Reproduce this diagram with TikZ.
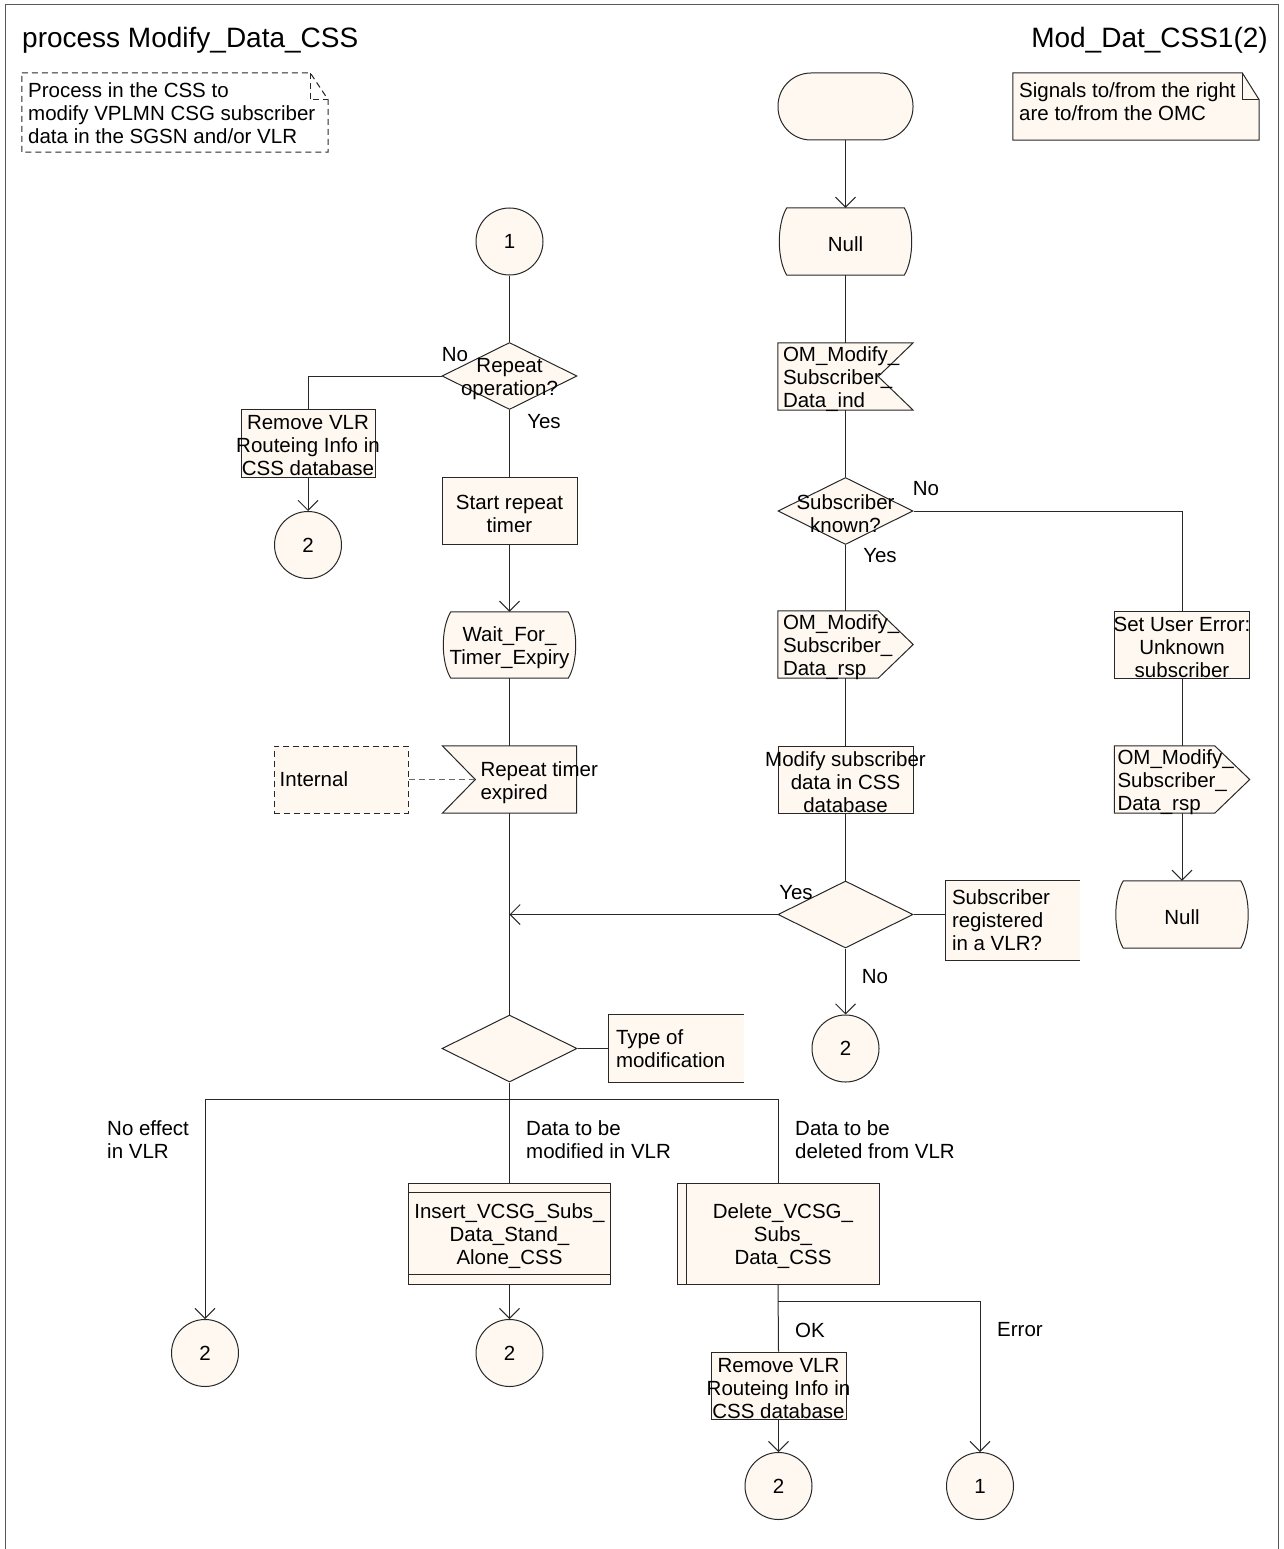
\documentclass[tikz,border=0pt]{standalone}
\usepackage{fontspec}
\setmainfont{Liberation Sans}
\usetikzlibrary{shapes.geometric,arrows.meta}
\definecolor{cream}{RGB}{254,248,241}
\definecolor{ink}{RGB}{40,40,40}
\newcommand\fs{\fontsize{20.5}{23}\selectfont}
\tikzset{
  wire/.style={draw=ink, line width=1pt},
  arr/.style={wire, -{Straight Barb[length=10pt,width=20pt]}},
  shp/.style={draw=ink, fill=cream, line width=1pt},
  slot/.style={rectangle, inner sep=0pt, minimum width=135pt, minimum height=67pt},
  sdlproc/.style={slot, draw=ink, fill=cream, line width=1pt},
  sdldec/.style={diamond, draw=ink, fill=cream, line width=1pt, inner sep=0pt, minimum width=135pt, minimum height=67pt},
  sdlconn/.style={circle, draw=ink, fill=cream, line width=1pt, inner sep=0pt, minimum size=67pt, font=\fs},
  txt/.style={font=\fs, inner sep=0pt, align=center, yshift=-3pt},
  ltxt/.style={font=\fs, inner sep=0pt, align=left, anchor=west, yshift=-3pt},
  lbl/.style={font=\fs, inner sep=0pt, align=left},
  ttl/.style={font=\fontsize{28}{32}\selectfont, inner sep=0pt},
  frame/.style={draw=black!65, line width=1pt},
  dsh/.style={dash pattern=on 6pt off 4pt}
}
\newcommand\sdlState[1]{\path[shp] ([xshift=9pt]#1.north west) -- ([xshift=-9pt]#1.north east) .. controls ([xshift=1pt,yshift=-16pt]#1.north east) and ([xshift=1pt,yshift=16pt]#1.south east) .. ([xshift=-9pt]#1.south east) -- ([xshift=9pt]#1.south west) .. controls ([xshift=-1pt,yshift=16pt]#1.south west) and ([xshift=-1pt,yshift=-16pt]#1.north west) .. cycle;}
\newcommand\sdlIn[1]{\path[shp] (#1.north west) -- (#1.north east) -- ([xshift=-35pt]#1.east) -- (#1.south east) -- (#1.south west) -- cycle;}
\newcommand\sdlOut[1]{\path[shp] (#1.north west) -- ([xshift=-35pt]#1.north east) -- (#1.east) -- ([xshift=-35pt]#1.south east) -- (#1.south west) -- cycle;}
\newcommand\sdlInL[1]{\path[shp] (#1.north west) -- (#1.north east) -- (#1.south east) -- (#1.south west) -- ([xshift=33pt]#1.west) -- cycle;}
\newcommand\sdlCom[1]{\fill[cream] (#1.north west) rectangle (#1.south east); \draw[wire] (#1.north east) -- (#1.north west) -- (#1.south west) -- (#1.south east);}
\begin{document}
\begin{tikzpicture}[x=1pt,y=-1pt]
\useasboundingbox (0,0) rectangle (1283,1549);
\draw[frame] (5,1549) -- (5,5) -- (1278,5) -- (1278,1549);

% titles
\node[ttl, anchor=west] (title) at (22,40) {process Modify\_Data\_CSS};
\node[ttl, anchor=east] (page) at (1268,40) {Mod\_Dat\_CSS1(2)};

% notes
\node[slot, minimum width=306pt, minimum height=79pt] (note1) at (175,112.5) {};
\draw[wire, dsh] (note1.north west) -- ([xshift=-18pt]note1.north east) -- ([yshift=-27pt]note1.north east) -- (note1.south east) -- (note1.south west) -- cycle;
\draw[wire, dsh] ([xshift=-18pt]note1.north east) -- ([xshift=-18pt,yshift=-27pt]note1.north east) -- ([yshift=-27pt]note1.north east);
\node[slot, minimum width=246pt, minimum height=67pt] (note2) at (1136,106.5) {};
\path[shp] (note2.north west) -- ([xshift=-17pt]note2.north east) -- ([yshift=-27pt]note2.north east) -- (note2.south east) -- (note2.south west) -- cycle;
\draw[wire] ([xshift=-17pt]note2.north east) -- ([xshift=-17pt,yshift=-27pt]note2.north east) -- ([yshift=-27pt]note2.north east);

% right-hand column
\node[sdlproc, rounded corners=33pt] (start) at (845.5,106.5) {};
\node[slot] (null1) at (845.5,241.5) {};
\sdlState{null1}
\node[slot] (in1) at (845.5,376.5) {};
\sdlIn{in1}
\node[sdldec] (dec1) at (845.5,511) {};
\node[slot] (out1) at (845.5,644.5) {};
\sdlOut{out1}
\node[sdlproc] (err) at (1182,644.5) {};
\node[slot] (out2) at (1182,779.5) {};
\sdlOut{out2}
\node[slot] (null2) at (1182,914.5) {};
\sdlState{null2}
\node[sdlproc] (mod) at (845.5,779.5) {};
\node[sdldec] (dec2) at (845.5,914.5) {};
\node[slot, minimum width=134pt, minimum height=79pt] (com1) at (1013,920.5) {};
\sdlCom{com1}
\node[sdlconn] (c2a) at (845.5,1048.5) {2};

% left-hand column
\node[sdlconn] (c1) at (509.5,241.5) {1};
\node[sdldec] (dec0) at (509.5,376) {};
\node[sdlproc, minimum width=134pt, minimum height=68pt] (rem1) at (308,443) {};
\node[sdlconn] (c2b) at (308,545) {2};
\node[sdlproc] (timer) at (509.5,510.5) {};
\node[slot, minimum height=66pt] (wait) at (509.5,645) {};
\sdlState{wait}
\node[slot, minimum width=134pt] (rte) at (509.5,779.5) {};
\sdlInL{rte}
\node[slot, minimum width=134pt, fill=cream, draw=ink, line width=1pt, dsh] (intl) at (341,779.5) {};
\node[sdldec] (dec3) at (509.5,1048.5) {};
\node[slot, minimum width=135pt] (com2) at (676.5,1048.5) {};
\sdlCom{com2}

% bottom
\coordinate (j) at (509.5,1099);
\node[sdlconn] (c2c) at (205,1353) {2};
\node[sdlproc, minimum width=202pt, minimum height=101pt] (ins) at (509.5,1233.5) {};
\draw[wire] ([yshift=-10pt]ins.north west) -- ([yshift=-10pt]ins.north east);
\draw[wire] ([yshift=10pt]ins.south west) -- ([yshift=10pt]ins.south east);
\node[sdlconn] (c2d) at (509.5,1353) {2};
\node[sdlproc, minimum width=202pt, minimum height=101pt] (del) at (778,1233.5) {};
\draw[wire] ([xshift=10pt]del.north west) -- ([xshift=10pt]del.south west);
\coordinate (k) at (778,1301);
\node[sdlproc] (rem2) at (778.5,1385.5) {};
\node[sdlconn] (c2e) at (778.5,1486) {2};
\node[sdlconn] (c1b) at (980,1486) {1};

% connectors
\draw[arr] (start.south) -- (null1.north);
\draw[wire] (null1.south) -- (in1.north);
\draw[wire] (in1.south) -- (dec1.north);
\draw[wire] (dec1.south) -- (out1.north);
\draw[wire] (dec1.east) -- (dec1.east -| err.north) -- (err.north);
\draw[wire] (err.south) -- (out2.north);
\draw[arr] (out2.south) -- (null2.north);
\draw[wire] (out1.south) -- (mod.north);
\draw[wire] (mod.south) -- (dec2.north);
\draw[arr] (dec2.west) -- (dec2.west -| rte.south);
\draw[wire] (dec2.east) -- (dec2.east -| com1.west);
\draw[arr] (dec2.south) -- (c2a.north);
\draw[wire] (c1.south) -- (dec0.north);
\draw[wire] (dec0.west) -- (dec0.west -| rem1.north) -- (rem1.north);
\draw[arr] (rem1.south) -- (c2b.north);
\draw[wire] (dec0.south) -- (timer.north);
\draw[arr] (timer.south) -- (wait.north);
\draw[wire] (wait.south) -- (rte.north);
\draw[wire] (rte.south) -- (dec3.north);
\draw[wire, draw=ink!70, dsh] (intl.east) -- ([xshift=33pt]rte.west);
\draw[wire] (dec3.east) -- (com2.west);
\draw[wire] (dec3.south) -- (j);
\draw[wire] (j -| c2c.north) -- (j -| del.north);
\draw[arr] (j -| c2c.north) -- (c2c.north);
\draw[wire] (j) -- (ins.north);
\draw[wire] (j -| del.north) -- (del.north);
\draw[arr] (ins.south) -- (c2d.north);
\draw[wire] (del.south) -- (rem2.north);
\draw[arr] (k) -- (k -| c1b.north) -- (c1b.north);
\draw[arr] (rem2.south) -- (c2e.north);

% texts
\node[lbl, anchor=west] (note1t) at (28,113) {Process in the CSS to\\modify VPLMN CSG subscriber\\data in the SGSN and/or VLR};
\node[lbl, anchor=west] (note2t) at (1019,102) {Signals to/from the right\\are to/from the OMC};
\node[txt] (null1t) at (null1) {Null};
\node[ltxt] (in1t) at ([xshift=5pt]in1.west) {OM\_Modify\_\\Subscriber\_\\Data\_ind};
\node[txt] (dec1t) at (dec1) {Subscriber\\known?};
\node[ltxt] (out1t) at ([xshift=5pt]out1.west) {OM\_Modify\_\\Subscriber\_\\Data\_rsp};
\node[txt] (errt) at (err) {Set User Error:\\Unknown\\subscriber};
\node[ltxt] (out2t) at ([xshift=3pt]out2.west) {OM\_Modify\_\\Subscriber\_\\Data\_rsp};
\node[txt] (null2t) at (null2) {Null};
\node[txt] (modt) at (mod) {Modify subscriber\\data in CSS\\database};
\node[lbl, anchor=west] (com1t) at ([xshift=6pt]com1.west) {Subscriber\\registered\\in a VLR?};
\node[txt] (dec0t) at (dec0) {Repeat\\operation?};
\node[txt] (rem1t) at (rem1) {Remove VLR\\Routeing Info in\\CSS database};
\node[txt] (timert) at (timer) {Start repeat\\timer};
\node[txt] (waitt) at (wait) {Wait\_For\_\\Timer\_Expiry};
\node[ltxt] (rtet) at ([xshift=38pt]rte.west) {Repeat timer\\expired};
\node[lbl, anchor=west] (intlt) at ([xshift=6pt]intl.west) {Internal};
\node[lbl, anchor=west] (com2t) at ([xshift=7pt]com2.west) {Type of\\modification};
\node[txt] (inst) at (ins) {Insert\_VCSG\_Subs\_\\Data\_Stand\_\\Alone\_CSS};
\node[txt] (delt) at ([xshift=5pt]del.center) {Delete\_VCSG\_\\Subs\_\\Data\_CSS};
\node[txt] (rem2t) at (rem2) {Remove VLR\\Routeing Info in\\CSS database};

% branch labels
\node[lbl] (lno0) at (455,355) {No};
\node[lbl] (lyes0) at (544,422) {Yes};
\node[lbl] (lno1) at (926,489) {No};
\node[lbl] (lyes1) at (880,556) {Yes};
\node[lbl] (lyes2) at (796,893) {Yes};
\node[lbl] (lno2) at (875,977) {No};
\node[lbl, anchor=west] (lb1) at (107,1140) {No effect\\in VLR};
\node[lbl, anchor=west] (lb2) at (526,1140) {Data to be\\modified in VLR};
\node[lbl, anchor=west] (lb3) at (795,1140) {Data to be\\deleted from VLR};
\node[lbl] (lok) at (810,1330) {OK};
\node[lbl] (lerr) at (1020,1330) {Error};
\end{tikzpicture}
\end{document}
